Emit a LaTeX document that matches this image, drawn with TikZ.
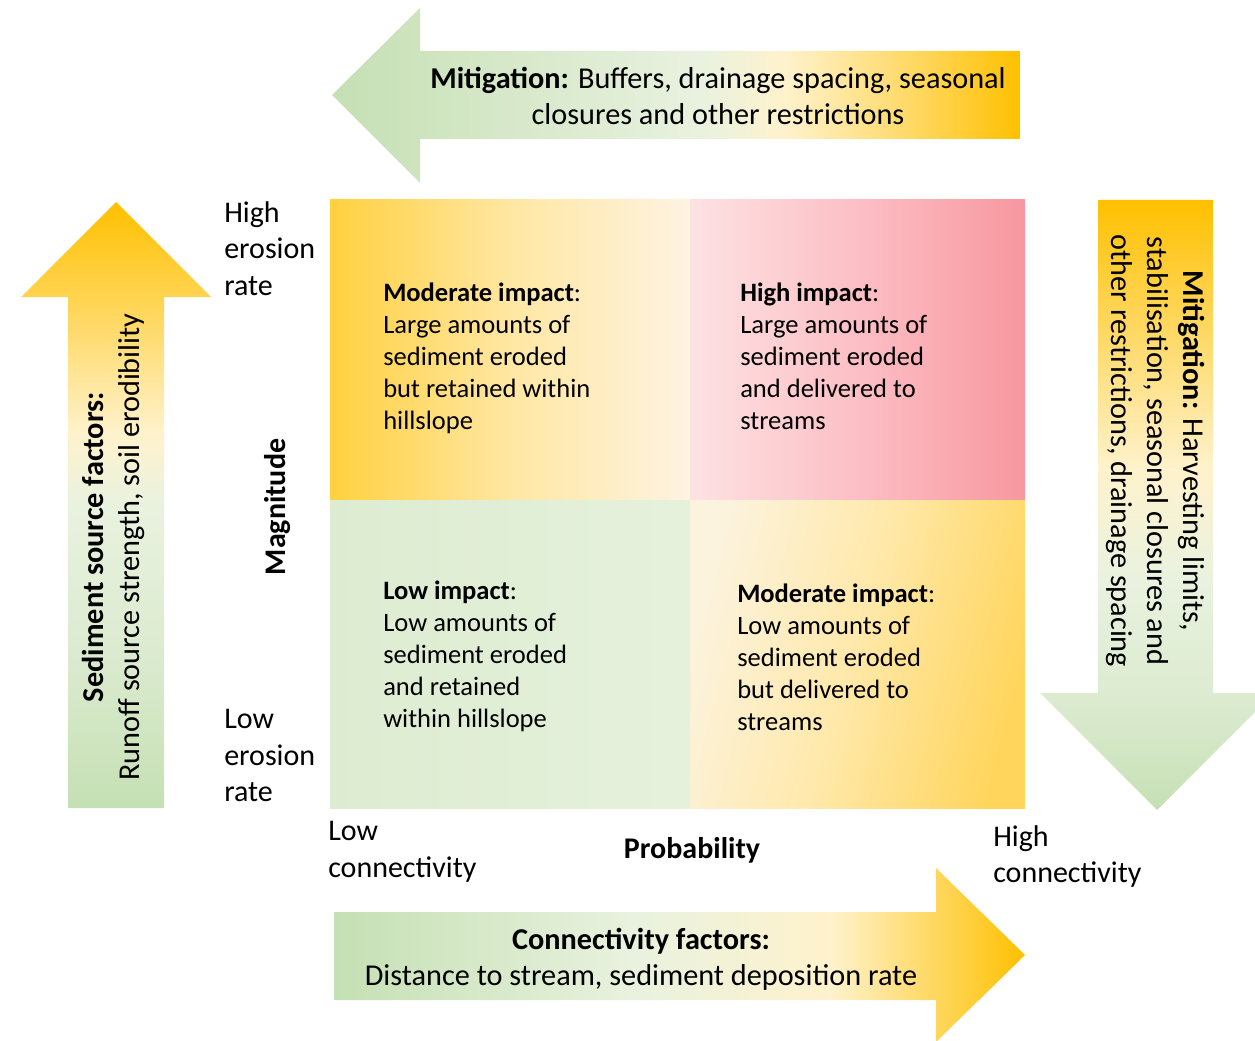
\documentclass[tikz,border=0pt]{standalone}
\usepackage{fontspec}
\setmainfont{Carlito}
\definecolor{gA}{HTML}{C5E0B4}
\definecolor{gB}{HTML}{DCEBD0}
\definecolor{gC}{HTML}{E9F2DF}
\definecolor{cr}{HTML}{FFF2CC}
\definecolor{gd}{HTML}{FFD966}
\definecolor{au}{HTML}{FFC000}
\definecolor{pkA}{HTML}{FDE2E3}
\definecolor{pkB}{HTML}{FCBFC5}
\definecolor{pkC}{HTML}{F8979F}
\definecolor{ygA}{HTML}{FFD03F}
\definecolor{ygB}{HTML}{FFE7A3}
\definecolor{ygC}{HTML}{FEF3E2}
\definecolor{lgA}{HTML}{DDECD1}
\definecolor{lgB}{HTML}{E6F1DC}
\definecolor{brA}{HTML}{FCF3DE}
\definecolor{brB}{HTML}{FFE8A8}
\definecolor{brC}{HTML}{FFD55C}
% arrow gradients (25bp and 75bp are the path's edges)
\pgfdeclarehorizontalshading{toparrow}{100bp}{color(0bp)=(gA); color(25bp)=(gA); color(42bp)=(gB); color(52bp)=(gC); color(58bp)=(cr); color(67bp)=(gd); color(75bp)=(au); color(100bp)=(au)}
\pgfdeclarehorizontalshading{botarrow}{100bp}{color(0bp)=(gA); color(25bp)=(gA); color(47bp)=(gC); color(61bp)=(cr); color(68bp)=(gd); color(75bp)=(au); color(100bp)=(au)}
\pgfdeclareverticalshading{uparrow}{100bp}{color(0bp)=(gA); color(25bp)=(gA); color(38bp)=(gB); color(50bp)=(gC); color(56bp)=(cr); color(65bp)=(gd); color(75bp)=(au); color(100bp)=(au)}
\pgfdeclareverticalshading{downarrow}{100bp}{color(0bp)=(gA); color(25bp)=(gA); color(34bp)=(gB); color(44bp)=(gC); color(53bp)=(cr); color(64bp)=(gd); color(75bp)=(au); color(100bp)=(au)}
% quadrant gradients
\pgfdeclarehorizontalshading{qtl}{100bp}{color(0bp)=(ygA); color(25bp)=(ygA); color(50bp)=(ygB); color(75bp)=(ygC); color(100bp)=(ygC)}
\pgfdeclarehorizontalshading{qtr}{100bp}{color(0bp)=(pkA); color(25bp)=(pkA); color(50bp)=(pkB); color(75bp)=(pkC); color(100bp)=(pkC)}
\pgfdeclarehorizontalshading{qbl}{100bp}{color(0bp)=(lgA); color(25bp)=(lgA); color(75bp)=(lgB); color(100bp)=(lgB)}
\pgfdeclarehorizontalshading{qbr}{100bp}{color(0bp)=(brA); color(25bp)=(brA); color(50bp)=(brB); color(75bp)=(brC); color(100bp)=(brC)}
\tikzset{
  axislabel/.style={font=\fontsize{22.5}{27.5}\selectfont, align=left, inner sep=0pt, anchor=north west},
  quadtext/.style={font=\fontsize{19.9}{24}\selectfont, align=left, inner sep=0pt, anchor=north west},
  arrowtext/.style={font=\fontsize{22.7}{27}\selectfont, align=center, inner sep=0pt},
  boldlabel/.style={font=\fontsize{22.5}{27}\selectfont\bfseries, inner sep=0pt}
}
\begin{document}
\begin{tikzpicture}[x=0.75pt,y=-0.75pt]
\useasboundingbox (0,0) rectangle (1255,1041);
\clip (0,0) rectangle (1255,1041);

% quadrants of the impact matrix
\shade[shading=qtl] (330,200) rectangle (690,500);
\shade[shading=qtr] (690,200) rectangle (1025,500);
\shade[shading=qbl] (330,500) rectangle (690,808);
\shade[shading=qbr, shading angle=-15] (690,500) rectangle (1025,808);

% block arrows
\shade[shading=toparrow] (332,95) -- (420,8) -- (420,51) -- (1020,51) -- (1020,139) -- (420,139) -- (420,183) -- cycle;
\shade[shading=uparrow] (116,202) -- (211,297) -- (164,297) -- (164,808) -- (68,808) -- (68,297) -- (21,297) -- cycle;
\shade[shading=downarrow] (1098,200) -- (1213,200) -- (1213,693) -- (1274,693) -- (1157,810) -- (1040,693) -- (1098,693) -- cycle;
\shade[shading=botarrow] (334,912) -- (936,912) -- (936,868) -- (1025,955) -- (936,1042) -- (936,1000) -- (334,1000) -- cycle;

% arrow texts
\node[arrowtext] (topmit) at (718,96) {\textbf{Mitigation:} Buffers, drainage spacing, seasonal\\closures and other restrictions};
\node[arrowtext, rotate=90] (source) at (113,547) {\textbf{Sediment source factors:}\\Runoff source strength, soil erodibility};
\node[arrowtext, rotate=-90] (sidemit) at (1156,451) {\textbf{Mitigation:} Harvesting limits,\\stabilisation, seasonal closures and\\other restrictions, drainage spacing};
\node[arrowtext] (connect) at (641,959) {\textbf{Connectivity factors:}\\Distance to stream, sediment deposition rate};

% axis labels
\node[axislabel] (higherosion) at (224,201) {High\\erosion\\rate};
\node[axislabel] (lowerosion) at (224,709) {Low\\erosion\\rate};
\node[boldlabel, rotate=90] (magnitude) at (278,507) {Magnitude};
\node[axislabel] (lowconn) at (328,821) {Low\\connectivity};
\node[boldlabel] (probability) at (692,850) {Probability};
\node[axislabel] (highconn) at (993,825) {High\\connectivity};

% quadrant descriptions
\node[quadtext] (qtltext) at (383,283) {\textbf{Moderate impact}:\\Large amounts of\\sediment eroded\\but retained within\\hillslope};
\node[quadtext] (qtrtext) at (740,283) {\textbf{High impact}:\\Large amounts of\\sediment eroded\\and delivered to\\streams};
\node[quadtext] (qbltext) at (383,581) {\textbf{Low impact}:\\Low amounts of\\sediment eroded\\and retained\\within hillslope};
\node[quadtext] (qbrtext) at (737,584) {\textbf{Moderate impact}:\\Low amounts of\\sediment eroded\\but delivered to\\streams};
\end{tikzpicture}
\end{document}
